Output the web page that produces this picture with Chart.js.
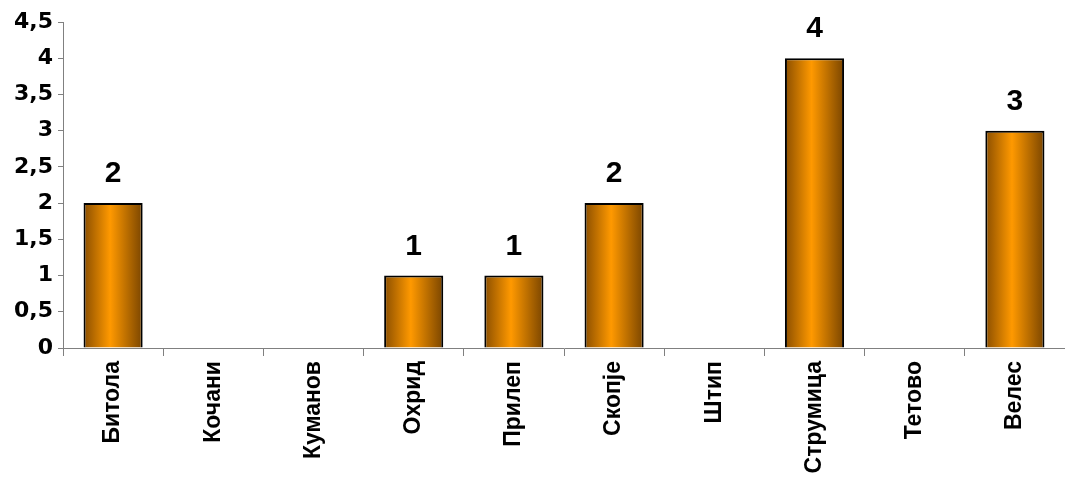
<!DOCTYPE html>
<html>
<head>
<meta charset="utf-8">
<script src="https://cdn.jsdelivr.net/npm/chart.js@4/dist/chart.umd.min.js"></script>
<style>
  html, body { margin: 0; padding: 0; background: #fff; }
  #wrap { width: 1065px; height: 477px; }
</style>
</head>
<body>
<div id="wrap"><canvas id="barChart"></canvas></div>
<script>
const cities = ['Битола', 'Кочани', 'Куманов', 'Охрид', 'Прилеп', 'Скопје', 'Штип', 'Струмица', 'Тетово', 'Велес'];
const counts = [2, 0, 0, 1, 1, 2, 0, 4, 0, 3];
const yTicks = [0, 0.5, 1, 1.5, 2, 2.5, 3, 3.5, 4, 4.5];

const barPct = 0.59;

// horizontal orange gradient across each bar
function barFill(context) {
  const chart = context.chart;
  const x = chart.scales.x;
  if (!x || !chart.chartArea) return '#ff9900';
  const cx = x.getPixelForValue(context.dataIndex);
  const half = (chart.chartArea.width / cities.length) * barPct / 2;
  const g = chart.ctx.createLinearGradient(cx - half, 0, cx + half, 0);
  g.addColorStop(0, '#8a4e00');
  g.addColorStop(0.45, '#ff9900');
  g.addColorStop(1, '#7a4500');
  return g;
}

const valueLabels = {
  id: 'valueLabels',
  afterDatasetsDraw(chart) {
    const ctx = chart.ctx;
    const meta = chart.getDatasetMeta(0);
    ctx.save();
    ctx.font = 'bold 30px "Liberation Sans", Arial, sans-serif';
    ctx.fillStyle = '#000';
    ctx.textAlign = 'center';
    ctx.textBaseline = 'alphabetic';
    meta.data.forEach((bar, i) => {
      if (!counts[i]) return;
      ctx.fillText(String(counts[i]), bar.x, bar.y - 21);
    });
    ctx.restore();
  }
};

const ctxBar = document.getElementById('barChart').getContext('2d');
new Chart(ctxBar, {
  type: 'bar',
  data: {
    labels: cities,
    datasets: [{
      data: counts,
      backgroundColor: barFill,
      borderColor: '#000',
      borderWidth: 2,
      barPercentage: barPct,
      categoryPercentage: 1
    }]
  },
  options: {
    responsive: true,
    maintainAspectRatio: false,
    animation: false,
    layout: { padding: { top: 22, left: 0, right: 0, bottom: 0 } },
    plugins: { legend: { display: false }, tooltip: { enabled: false } },
    scales: {
      x: {
        afterFit: s => { s.height = 129; },
        grid: { drawOnChartArea: false, drawTicks: true, tickLength: 8, color: '#808080', offset: true },
        border: { color: '#808080', width: 1 },
        ticks: {
          minRotation: 90, maxRotation: 90, autoSkip: false,
          color: '#000', padding: 5,
          font: { family: '"Liberation Sans", Arial, sans-serif', size: 23, weight: 'bold' }
        }
      },
      y: {
        min: 0, max: 4.5,
        afterFit: s => { s.width = 63; },
        afterBuildTicks: s => { s.ticks = yTicks.map(v => ({ value: v })); },
        grid: { drawOnChartArea: false, drawTicks: true, tickLength: 5, color: '#808080' },
        border: { color: '#808080', width: 1 },
        ticks: {
          color: '#000', padding: 5,
          callback: v => String(v).replace('.', ','),
          font: { family: '"DejaVu Sans", sans-serif', size: 22, weight: 'bold' }
        }
      }
    }
  },
  plugins: [valueLabels]
});
</script>
</body>
</html>
